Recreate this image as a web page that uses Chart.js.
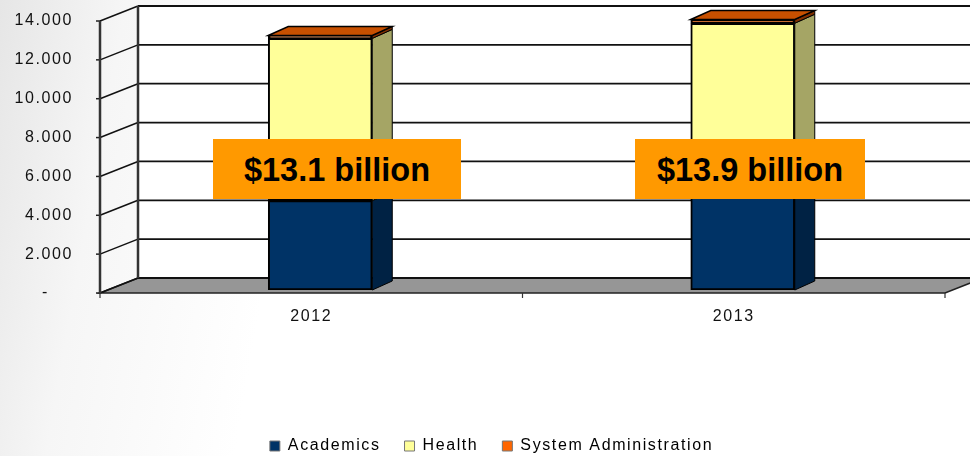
<!DOCTYPE html>
<html>
<head>
<meta charset="utf-8">
<title>Budget by year</title>
<script src="https://cdn.jsdelivr.net/npm/chart.js@4"></script>
<style>
  html, body { margin: 0; padding: 0; }
  body {
    width: 970px; height: 456px; overflow: hidden; position: relative;
    background: linear-gradient(100deg, #e6e6e6 0%, #f6f6f6 12%, #ffffff 30%);
  }
  #chartWrap { position: absolute; left: 0; top: 0; width: 970px; height: 456px; }
  .callout {
    position: absolute; top: 139px; height: 60px;
    background: #ff9900; color: #000; text-align: center;
    font: bold 32.5px/62px "Liberation Sans", Arial, sans-serif;
  }
</style>
</head>
<body>
<div id="chartWrap"><canvas id="chart" width="970" height="456"></canvas></div>
<div class="callout" id="callout0" style="left:213px;width:248px"></div>
<div class="callout" id="callout1" style="left:635px;width:230px"></div>
<script>
// =========================
//  Data
// =========================
const categories = ["2012", "2013"];
const academics = [4600, 4800];
const health = [8350, 8930];
const systemAdmin = [150, 190];
const seriesNames = ["Academics", "Health", "System Administration"];
const yTickLabels = ["-    ", "2.000", "4.000", "6.000", "8.000", "10.000", "12.000", "14.000"];
const calloutLabels = ["$13.1 billion", "$13.9 billion"];

// =========================
//  Colours
// =========================
const frontColors = ["#003366", "#ffff99", "#c85000"];
const sideColors = ["#002244", "#a5a565", "#802f00"];
const topColors = ["#002244", "#ffff99", "#c85000"];
const legendColors = ["#003366", "#ffff99", "#ff6600"];
const FONT = '"Liberation Sans", Arial, sans-serif';
const SPACING = "1.6px";

// depth of the box (wall) and of the bars
const WALL_DX = 38, WALL_DY = 15;
const BAR_DX = 20, BAR_DY = 9;
const BAR_SHIFT_X = 9, BAR_SHIFT_Y = -3;
const LEGEND_SHIFT_X = 19, LEGEND_SHIFT_Y = 8;

function poly(ctx, pts, fill, stroke, lw) {
  ctx.beginPath();
  pts.forEach((p, i) => i ? ctx.lineTo(p[0], p[1]) : ctx.moveTo(p[0], p[1]));
  ctx.closePath();
  if (fill) { ctx.fillStyle = fill; ctx.fill(); }
  if (stroke) { ctx.strokeStyle = stroke; ctx.lineWidth = lw; ctx.stroke(); }
}

function seg(ctx, x1, y1, x2, y2, color, lw) {
  ctx.beginPath();
  ctx.moveTo(x1, y1);
  ctx.lineTo(x2, y2);
  ctx.strokeStyle = color;
  ctx.lineWidth = lw;
  ctx.stroke();
}

// =========================
//  Text spacing, legend spot
// =========================
const textTweaks = {
  id: "textTweaks",
  beforeLayout(chart) { chart.ctx.letterSpacing = SPACING; },
  afterLayout(chart) {
    const lg = chart.legend;
    lg.left += LEGEND_SHIFT_X;
    lg.right += LEGEND_SHIFT_X;
    lg.top += LEGEND_SHIFT_Y;
    lg.bottom += LEGEND_SHIFT_Y;
  },
  beforeDraw(chart) { chart.ctx.letterSpacing = SPACING; }
};

// =========================
//  3D box and bar faces
// =========================
const box3d = {
  id: "box3d",
  beforeDatasetsDraw(chart) {
    const ctx = chart.ctx, x = chart.scales.x, y = chart.scales.y;
    const L = x.left, R = x.right, B = y.getPixelForValue(0), T = y.getPixelForValue(14000);
    const far = R + WALL_DX;

    ctx.save();
    poly(ctx, [[L + WALL_DX, T - WALL_DY], [far, T - WALL_DY], [far, B - WALL_DY], [L + WALL_DX, B - WALL_DY]], "#ffffff");
    poly(ctx, [[L, B], [L + WALL_DX, B - WALL_DY], [far, B - WALL_DY], [R, B]], "#969696", "#222222", 1.5);

    y.ticks.forEach(t => {
      const py = y.getPixelForValue(t.value);
      seg(ctx, L - 4, py, L, py, "#222222", 1.5);
      seg(ctx, L, py, L + WALL_DX, py - WALL_DY, "#111111", 1.5);
      seg(ctx, L + WALL_DX, py - WALL_DY, far, py - WALL_DY, "#111111", 1.8);
    });

    seg(ctx, L, T, L, B, "#333333", 2.5);
    seg(ctx, L + WALL_DX, T - WALL_DY, L + WALL_DX, B - WALL_DY, "#333333", 2.5);

    const band = (R - L) / categories.length;
    for (let i = 0; i <= categories.length; i++) {
      seg(ctx, L + i * band, B, L + i * band, B + 5, "#333333", 1.2);
    }
    ctx.restore();

    // the bars stand a little behind the front edge of the floor
    ctx.save();
    ctx.translate(BAR_SHIFT_X, BAR_SHIFT_Y);
  },
  afterDatasetsDraw(chart) {
    const ctx = chart.ctx;
    chart.data.datasets.forEach((ds, d) => {
      chart.getDatasetMeta(d).data.forEach(bar => {
        const l = bar.x - bar.width / 2, r = bar.x + bar.width / 2;
        const t = bar.y, b = bar.base;
        poly(ctx, [[r, b], [r + BAR_DX, b - BAR_DY], [r + BAR_DX, t - BAR_DY], [r, t]], sideColors[d], "#000000", 1);
        if (d === chart.data.datasets.length - 1) {
          poly(ctx, [[l, t], [l + BAR_DX, t - BAR_DY], [r + BAR_DX, t - BAR_DY], [r, t]], topColors[d], "#000000", 1.5);
        }
      });
    });
    ctx.restore();
  }
};

// =========================
//  Chart
// =========================
function makeSet(i, values) {
  return {
    label: seriesNames[i],
    data: values,
    backgroundColor: frontColors[i],
    borderColor: "#000000",
    borderWidth: 2,
    borderSkipped: false,
    barThickness: 104
  };
}

new Chart(document.getElementById("chart").getContext("2d"), {
  type: "bar",
  data: {
    labels: categories,
    datasets: [makeSet(0, academics), makeSet(1, health), makeSet(2, systemAdmin)]
  },
  plugins: [textTweaks, box3d],
  options: {
    responsive: false,
    animation: false,
    layout: { padding: { left: 0, right: 25, top: 21, bottom: 0 } },
    scales: {
      x: {
        stacked: true,
        border: { display: false },
        grid: { display: false, drawTicks: false },
        ticks: { padding: 14, color: "#111111", font: { family: FONT, size: 16 } },
        afterFit(scale) { scale.height = 113; }
      },
      y: {
        stacked: true,
        min: 0,
        max: 14000,
        border: { display: false },
        grid: { display: false, drawTicks: false },
        ticks: {
          stepSize: 2000,
          padding: 27,
          color: "#111111",
          font: { family: FONT, size: 16 },
          callback: (v, i) => yTickLabels[i]
        },
        afterFit(scale) {
          scale.width = 100;
          // tick padding would otherwise push the plot down from the top
          scale.paddingTop = 0;
          scale.paddingBottom = 0;
        }
      }
    },
    plugins: {
      tooltip: { enabled: false },
      legend: {
        position: "bottom",
        labels: {
          boxWidth: 10,
          boxHeight: 10,
          padding: 24,
          color: "#111111",
          font: { family: FONT, size: 16 },
          generateLabels: () => seriesNames.map((name, i) => ({
            text: name,
            fillStyle: legendColors[i],
            strokeStyle: "#777777",
            lineWidth: 1,
            datasetIndex: i
          }))
        }
      }
    }
  }
});

calloutLabels.forEach((t, i) => { document.getElementById("callout" + i).textContent = t; });
</script>
</body>
</html>
